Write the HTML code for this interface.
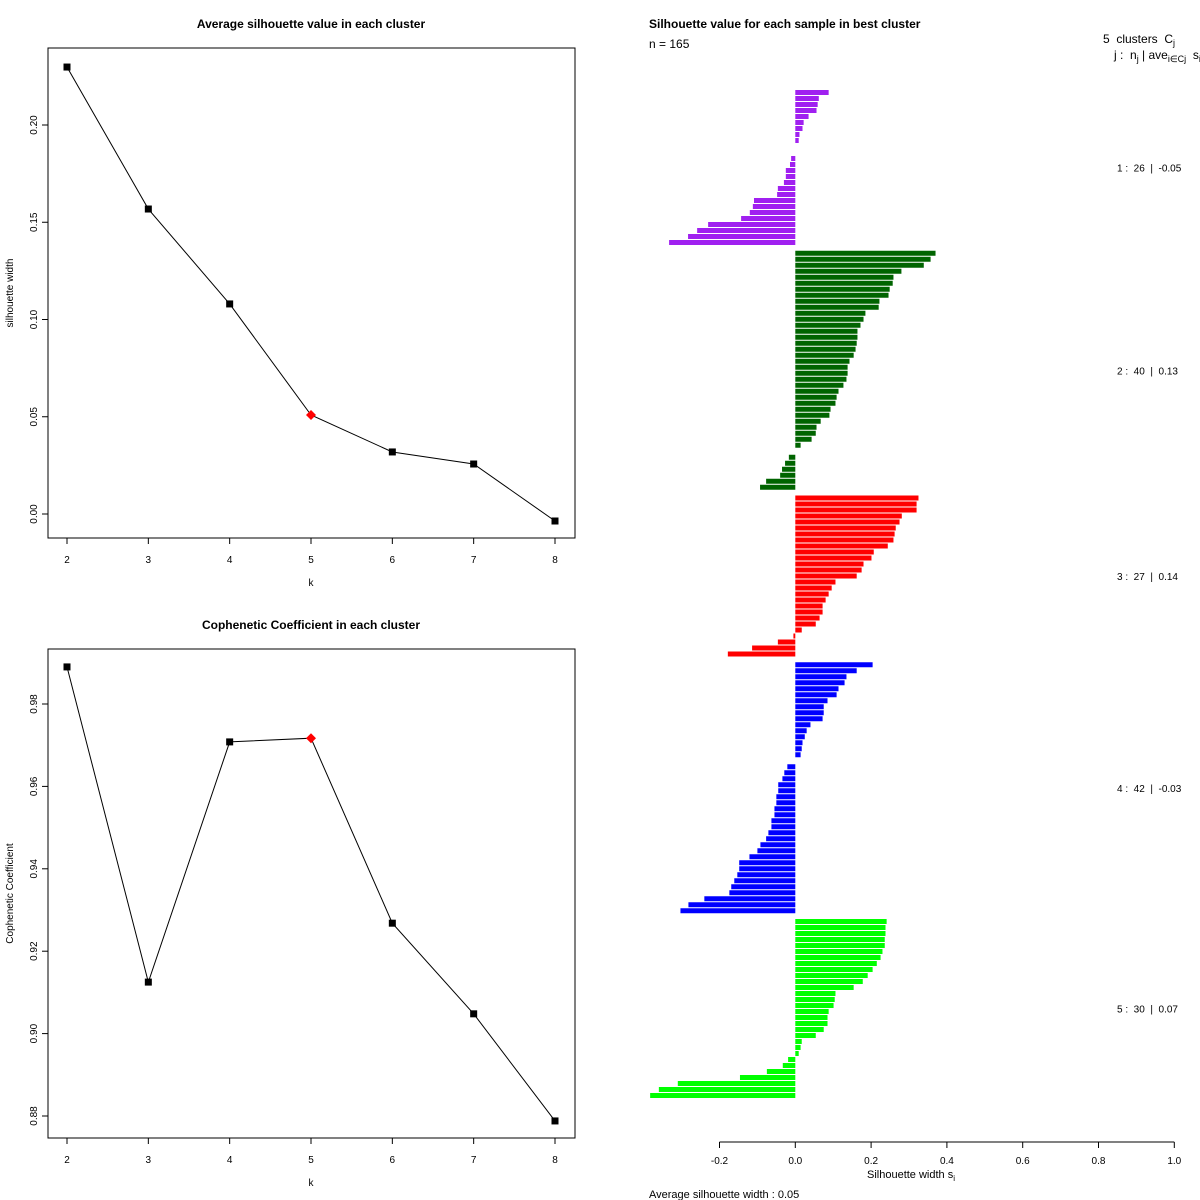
<!DOCTYPE html>
<html><head><meta charset="utf-8"><style>
html,body{margin:0;padding:0;background:#fff}
svg{display:block;font-family:"Liberation Sans",Arial,sans-serif}
svg text{white-space:pre}
</style></head><body>
<svg id="chart" width="1200" height="1200" viewBox="0 0 1200 1200" xmlns="http://www.w3.org/2000/svg">
<rect width="1200" height="1200" fill="#fff"/>
<text x="311" y="28" text-anchor="middle" font-size="12" font-weight="bold">Average silhouette value in each cluster</text>
<text x="311" y="629" text-anchor="middle" font-size="12" font-weight="bold">Cophenetic Coefficient in each cluster</text>
<text x="649" y="28" font-size="12" font-weight="bold">Silhouette value for each sample in best cluster</text>
<text x="649" y="48" font-size="12">n = 165</text>
<text x="1103" y="43" font-size="12">5  clusters  C<tspan font-size="9" dy="3">j</tspan></text>
<text x="1114" y="59" font-size="12">j :  n<tspan font-size="9" dy="3">j</tspan><tspan dy="-3"> | ave</tspan><tspan font-size="9" dy="3">i∈Cj</tspan><tspan dy="-3">  s</tspan><tspan font-size="9" dy="3">i</tspan></text>
<text x="911" y="1178" text-anchor="middle" font-size="11">Silhouette width s<tspan font-size="8" dy="3">i</tspan></text>
<text x="649" y="1198" font-size="11">Average silhouette width : 0.05</text>
<g id="g1"></g><g id="g2"></g><g id="g3"></g>
</svg>
<script>
const kValues = [2,3,4,5,6,7,8];
const silhouetteAvg = [0.2298,0.1568,0.1080,0.0509,0.0319,0.0257,-0.0036];
const silTicks = [0.00,0.05,0.10,0.15,0.20];
const copheneticCoef = [0.989,0.9125,0.9708,0.9717,0.9268,0.9048,0.8788];
const copTicks = [0.88,0.90,0.92,0.94,0.96,0.98];
const bestIndex = 3;
const clusterNames = ["1","2","3","4","5"];
const clusterSizes = [26,40,27,42,30];
const clusterAvg = ["-0.05","0.13","0.14","-0.03","0.07"];
const cluster1 = [0.088,0.062,0.059,0.056,0.035,0.022,0.019,0.011,0.009,0,0,-0.011,-0.014,-0.025,-0.025,-0.030,-0.046,-0.048,-0.109,-0.112,-0.120,-0.143,-0.230,-0.259,-0.283,-0.333];
const cluster2 = [0.370,0.357,0.339,0.280,0.259,0.257,0.249,0.246,0.222,0.220,0.185,0.180,0.172,0.164,0.164,0.162,0.159,0.154,0.143,0.138,0.138,0.135,0.127,0.114,0.109,0.106,0.093,0.090,0.067,0.056,0.054,0.043,0.014,0,-0.017,-0.027,-0.035,-0.040,-0.077,-0.093];
const cluster3 = [0.325,0.320,0.320,0.281,0.275,0.265,0.262,0.259,0.244,0.207,0.201,0.180,0.175,0.162,0.106,0.096,0.088,0.080,0.072,0.072,0.064,0.054,0.017,-0.005,-0.046,-0.114,-0.178];
const cluster4 = [0.204,0.162,0.135,0.130,0.114,0.109,0.085,0.075,0.075,0.072,0.040,0.030,0.025,0.019,0.017,0.014,0,-0.021,-0.029,-0.034,-0.045,-0.045,-0.050,-0.050,-0.055,-0.055,-0.063,-0.063,-0.071,-0.077,-0.092,-0.100,-0.121,-0.148,-0.148,-0.153,-0.161,-0.169,-0.174,-0.240,-0.282,-0.303];
const cluster5 = [0.241,0.238,0.238,0.236,0.236,0.230,0.225,0.215,0.204,0.191,0.178,0.154,0.106,0.104,0.101,0.088,0.085,0.085,0.075,0.054,0.017,0.014,0.009,-0.019,-0.033,-0.075,-0.146,-0.310,-0.360,-0.383];
const silXTicks = [-0.2,0.0,0.2,0.4,0.6,0.8,1.0];
const clusterColors = ["#A020F0","#006400","#FF0000","#0000FF","#00FF00"];

const NS="http://www.w3.org/2000/svg";
function mk(parent,tag,attrs,text){const e=document.createElementNS(NS,tag);for(const k in attrs)e.setAttribute(k,attrs[k]);if(text!==undefined)e.textContent=text;parent.appendChild(e);return e;}

function linePanel(g,vals,ticks,top,bottom,v0,v1,y0,y1,fmt,ytitle,prefix){
  const L=48,R=575;
  const xS=k=>67+(k-2)*(555-67)/6;
  const yS=v=>y0+(v-v0)*(y1-y0)/(v1-v0);
  const box=mk(g,'rect',{x:L,y:top,width:R-L,height:bottom-top,fill:'none',stroke:'#000','stroke-width':1});
  
  
  kValues.forEach(k=>{
    const x=xS(k);
    const t=mk(g,'line',{x1:x,y1:bottom,x2:x,y2:bottom+6,stroke:'#000'});
    
    
    const l=mk(g,'text',{x:x,y:bottom+25,'text-anchor':'middle','font-size':10},String(k));
    
    
  });
  ticks.forEach(v=>{
    const y=yS(v);
    const t=mk(g,'line',{x1:L-6,y1:y,x2:L,y2:y,stroke:'#000'});
    
    
    const l=mk(g,'text',{x:0,y:0,'text-anchor':'middle','font-size':10,transform:`translate(37,${y}) rotate(-90)`},v.toFixed(2));
    
    
  });
  const xt=mk(g,'text',{x:311,y:bottom+48,'text-anchor':'middle','font-size':10},'k');
  
  
  const yt=mk(g,'text',{x:0,y:0,'text-anchor':'middle','font-size':10,transform:`translate(13,${(top+bottom)/2}) rotate(-90)`},ytitle);
  
  
  const pts=vals.map((v,i)=>xS(kValues[i])+','+yS(v)).join(' ');
  const pl=mk(g,'polyline',{points:pts,fill:'none',stroke:'#000','stroke-width':1});
  
  
  vals.forEach((v,i)=>{
    const x=xS(kValues[i]),y=yS(v);
    let m;
    if(i===bestIndex){m=mk(g,'polygon',{points:`${x},${y-5} ${x+5},${y} ${x},${y+5} ${x-5},${y}`,fill:'#f00'});}
    else{m=mk(g,'rect',{x:x-3.5,y:y-3.5,width:7,height:7,fill:'#000'});}
    
    
  });
}
linePanel(document.getElementById('g1'),silhouetteAvg,silTicks,48,538,0,0.20,514,125,null,'silhouette width','silhouette');
linePanel(document.getElementById('g2'),copheneticCoef,copTicks,649,1138,0.88,0.98,1116,704,null,'Cophenetic Coefficient','cophenetic');

const g3=document.getElementById('g3');
const xB=v=>795.3+v*379;
const clusters=[cluster1,cluster2,cluster3,cluster4,cluster5];
let gi=0;
clusters.forEach((arr,c)=>{
  const startY=90+gi*6+c*4.75;
  arr.forEach((v,i)=>{
    const y=90+gi*6+c*4.75;
    const x0=xB(0),x1=xB(v);
    if(v!==0){
      const b=mk(g3,'rect',{x:Math.min(x0,x1),y:y,width:Math.abs(x1-x0),height:5,fill:clusterColors[c]});
      
      
    }
    gi++;
  });
  const endY=90+(gi-1)*6+c*4.75+5;
  const lab=mk(g3,'text',{x:1117,y:(startY+endY)/2+4,'font-size':10},`${clusterNames[c]} :  ${clusterSizes[c]}  |  ${clusterAvg[c]}`);
  
  
});
const ax=mk(g3,'line',{x1:xB(-0.2),y1:1142,x2:xB(1.0),y2:1142,stroke:'#000'});


silXTicks.forEach(v=>{
  const x=xB(v);
  const t=mk(g3,'line',{x1:x,y1:1142,x2:x,y2:1148,stroke:'#000'});
  
  
  const l=mk(g3,'text',{x:x,y:1164,'text-anchor':'middle','font-size':10},v.toFixed(1));
  
  
});
</script>
</body></html>
